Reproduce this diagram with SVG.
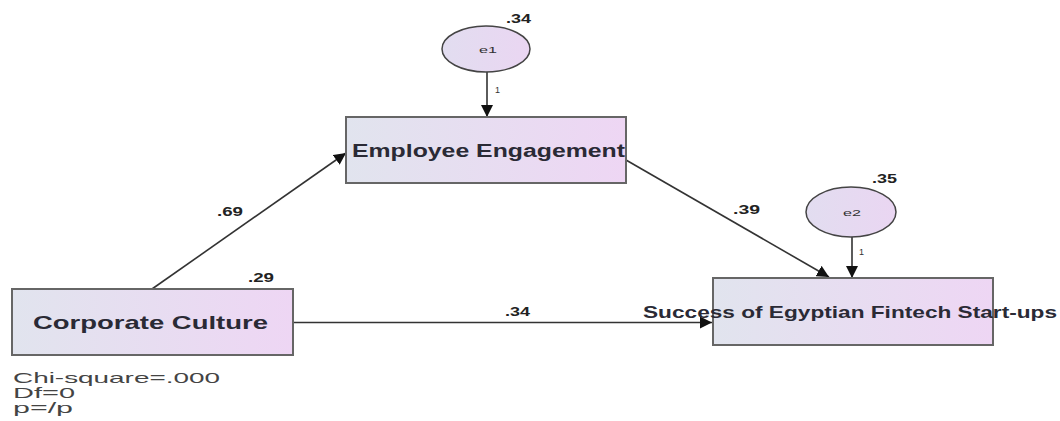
<svg xmlns="http://www.w3.org/2000/svg" width="1060" height="421" viewBox="0 0 1060 421">
<defs>
<linearGradient id="boxg" x1="0" y1="0" x2="1" y2="0">
<stop offset="0" stop-color="#e1e4ee"/>
<stop offset="1" stop-color="#eed6f4"/>
</linearGradient>
<linearGradient id="ellg" x1="0" y1="0" x2="1" y2="0">
<stop offset="0" stop-color="#e2ddf0"/>
<stop offset="1" stop-color="#ead6f2"/>
</linearGradient>
<marker id="ah" viewBox="0 0 10 10" refX="10" refY="5" markerWidth="12" markerHeight="12" markerUnits="userSpaceOnUse" orient="auto">
<path d="M0,0 L10,5 L0,10 z" fill="#111"/>
</marker>
</defs>
<style>
.box{fill:url(#boxg);stroke:#666;stroke-width:2}
.ell{fill:url(#ellg);stroke:#444;stroke-width:1.5}
.big{font-family:"Liberation Sans",Arial,sans-serif;font-weight:bold;fill:#2a2a35}
.sm{font-family:"Liberation Sans",Arial,sans-serif;font-size:12px;font-weight:bold;fill:#222}
.tiny{font-family:"Liberation Sans",Arial,sans-serif;font-size:9px;fill:#333}
.conn{stroke:#333;stroke-width:1.6;fill:none;marker-end:url(#ah)}
.stat{font-family:"Liberation Sans",Arial,sans-serif;font-size:15px;fill:#444}
</style>
<rect width="1060" height="421" fill="#fff"/>
<g id="connectors">
<line class="conn" x1="487" y1="72" x2="487" y2="117"/>
<line class="conn" x1="852" y1="237" x2="852" y2="278"/>
<line class="conn" x1="152" y1="289" x2="346" y2="153"/>
<line class="conn" x1="626" y1="160" x2="829" y2="277"/>
<line class="conn" x1="293" y1="322.5" x2="712" y2="322.5"/>
<text class="tiny" x="495" y="93">1</text>
<text class="tiny" x="859" y="255">1</text>
<text class="sm" x="217" y="216" textLength="26" lengthAdjust="spacingAndGlyphs">.69</text>
<text class="sm" x="733" y="214" textLength="27" lengthAdjust="spacingAndGlyphs">.39</text>
<text class="sm" x="505" y="316" textLength="25" lengthAdjust="spacingAndGlyphs">.34</text>
</g>
<g id="e1">
<ellipse class="ell" cx="486" cy="49" rx="44" ry="23"/>
<text class="tiny" x="488" y="53" text-anchor="middle" font-size="11" textLength="18" lengthAdjust="spacingAndGlyphs">e1</text>
<text class="sm" x="506" y="23" textLength="25" lengthAdjust="spacingAndGlyphs">.34</text>
</g>
<g id="e2">
<ellipse class="ell" cx="851" cy="212" rx="45" ry="25"/>
<text class="tiny" x="852" y="216" text-anchor="middle" font-size="11" textLength="18" lengthAdjust="spacingAndGlyphs">e2</text>
<text class="sm" x="872" y="183" textLength="25" lengthAdjust="spacingAndGlyphs">.35</text>
</g>
<g id="employee-engagement">
<rect class="box" x="346" y="117" width="280" height="66"/>
<text class="big" x="352" y="157" font-size="18" textLength="273" lengthAdjust="spacingAndGlyphs">Employee Engagement</text>
</g>
<g id="corporate-culture">
<rect class="box" x="12" y="289" width="281" height="66"/>
<text class="big" x="33" y="329" font-size="19" textLength="235" lengthAdjust="spacingAndGlyphs">Corporate Culture</text>
<text class="sm" x="248" y="282" textLength="26" lengthAdjust="spacingAndGlyphs">.29</text>
</g>
<g id="success">
<rect class="box" x="713" y="278" width="280" height="67"/>
<text class="big" x="643" y="318" font-size="17" textLength="414" lengthAdjust="spacingAndGlyphs">Success of Egyptian Fintech Start-ups</text>
</g>
<g id="stats">
<text class="stat" x="13" y="383" textLength="207" lengthAdjust="spacingAndGlyphs">Chi-square=.000</text>
<text class="stat" x="13" y="398" textLength="62" lengthAdjust="spacingAndGlyphs">Df=0</text>
<text class="stat" x="13" y="413" textLength="60" lengthAdjust="spacingAndGlyphs">p=/p</text>
</g>
</svg>
